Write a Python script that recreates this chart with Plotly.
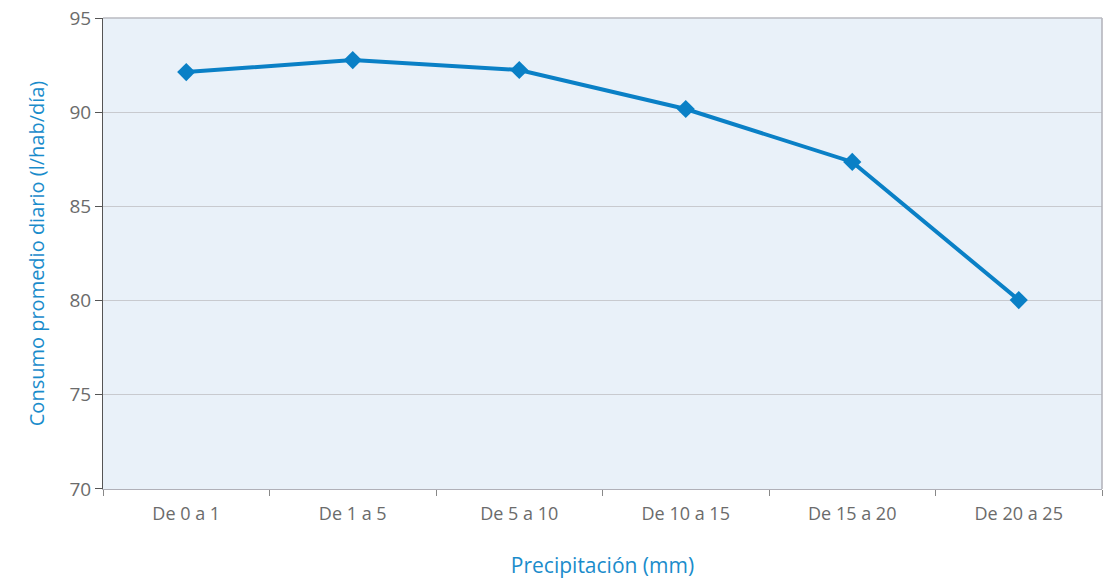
import plotly.graph_objects as go

categories = ["De 0 a 1", "De 1 a 5", "De 5 a 10", "De 10 a 15", "De 15 a 20", "De 20 a 25"]
consumo = [92.13, 92.77, 92.24, 90.17, 87.36, 80.03]
y_ticks = [70, 75, 80, 85, 90, 95]

# page body has an 8px default margin; figure sized to fit the 1112x587 window
fig = go.Figure()
fig.add_trace(go.Scatter(
    x=categories, y=consumo, mode="lines+markers",
    line=dict(color="#0A80C6", width=4),
    marker=dict(symbol="diamond", size=14, color="#0A80C6"),
    showlegend=False,
))

fig.update_layout(
    width=1096, height=571,
    margin=dict(l=95, r=2, t=10, b=90),
    paper_bgcolor="white",
    plot_bgcolor="#E9F1F9",
    font=dict(family="Open Sans", size=17, color="#6B6B6B"),
    xaxis=dict(
        title=dict(text="Precipitación (mm)", font=dict(color="#1A8CCB", size=21), standoff=50),
        automargin=False,
        range=[-0.5, 5.5],
        tickson="boundaries", ticks="outside", ticklen=6, tickcolor="#888",
        ticklabelstandoff=8,
        showgrid=False, showline=True, linecolor="#B0B0B8", linewidth=1,
        tickfont=dict(size=18, color="#6B6B6B"),
    ),
    yaxis=dict(
        title=dict(text="Consumo promedio diario (l/hab/día)", font=dict(color="#1A8CCB", size=20), standoff=19),
        automargin=False,
        ticklabeloverflow="allow",
        range=[69.999, 95.001], tickvals=y_ticks, ticks="outside", ticklen=7, tickcolor="#555",
        showgrid=True, gridcolor="#C8CACF", gridwidth=1,
        showline=True, linecolor="#555", linewidth=1,
        tickfont=dict(size=19, color="#6B6B6B"),
        zeroline=False,
    ),
)
fig.add_shape(type="line", xref="paper", yref="paper", x0=1, x1=1, y0=0, y1=1,
              line=dict(color="#B0B0B8", width=1.5))
fig.add_shape(type="line", xref="paper", yref="paper", x0=0, x1=1, y0=1, y1=1,
              line=dict(color="#B8BAC0", width=1.5))

fig.write_html("out.html")
